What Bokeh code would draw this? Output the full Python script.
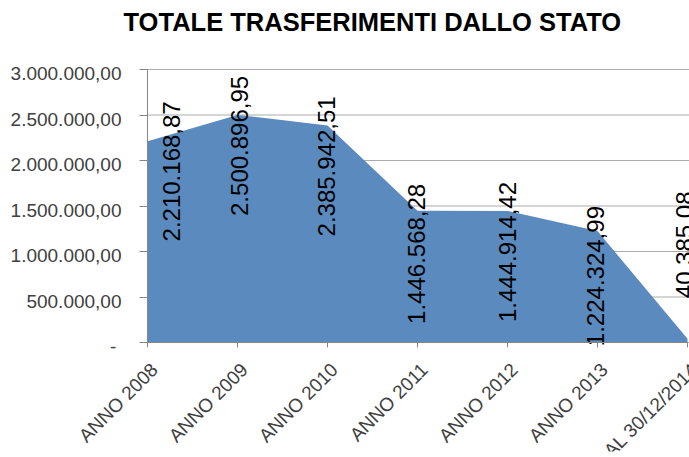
import math
from bokeh.plotting import figure
from bokeh.models import Range1d, FixedTicker, ColumnDataSource, Title
from bokeh.core.properties import value
from bokeh.embed import file_html
from bokeh.resources import INLINE

# ---- data ----
categories = ["ANNO 2008", "ANNO 2009", "ANNO 2010", "ANNO 2011",
              "ANNO 2012", "ANNO 2013", "AL 30/12/2014"]
values = [2210168.87, 2500896.95, 2385942.51, 1446568.28,
          1444914.42, 1224324.99, 40385.08]
label_texts = ["2.210.168,87", "2.500.896,95", "2.385.942,51", "1.446.568,28",
               "1.444.914,42", "1.224.324,99", "40.385,08"]
y_ticks = [0, 500000, 1000000, 1500000, 2000000, 2500000, 3000000]
y_tick_labels = ["-\u00a0", "500.000,00", "1.000.000,00", "1.500.000,00",
                 "2.000.000,00", "2.500.000,00", "3.000.000,00"]
title_text = "TOTALE TRASFERIMENTI DALLO STATO"

# data-label placement (screen px)
label_dx = [24, 2, -1, -1, 0, -2, -3]
label_dy = [30, 31, 41, 43, 41, 45, -94]

xs = list(range(len(categories)))
y_max = 3000000

# geometry (px): plot frame spans 10..689 x 60..451; the value axis sits at
# x=147, value 0 at y=342, 3.000.000 at y=69, the last category at x=687
W, H = 689, 457
FL, FR, FT, FB = 10, 689, 60, 451
AXIS_PX, LAST_PX, ZERO_PX, TOP_PX = 147, 687, 342, 69
step = (LAST_PX - AXIS_PX) / (len(xs) - 1)
x_start = -(AXIS_PX - FL) / step
x_end = (len(xs) - 1) + (FR - LAST_PX) / step
unit = y_max / (ZERO_PX - TOP_PX)
y_start = -(FB - ZERO_PX) * unit
y_end = y_max + (TOP_PX - FT) * unit

p = figure(width=W, height=H,
           x_range=Range1d(x_start, x_end),
           y_range=Range1d(y_start, y_end),
           output_backend="svg", toolbar_location=None,
           min_border_left=FL, min_border_right=W - FR,
           min_border_top=FT, min_border_bottom=H - FB)

p.outline_line_color = None
p.background_fill_color = "white"
p.border_fill_color = "white"
p.xgrid.grid_line_color = None
p.ygrid.grid_line_color = None

# spacer between title and plot area
p.add_layout(Title(text="\u00a0", text_font_size="1px", standoff=20), "above")

# title
p.title.text = title_text
p.title.text_font = "Liberation Sans"
p.title.text_font_size = "25.5px"
p.title.text_font_style = "bold"
p.title.text_color = "black"
p.title.align = "left"
p.title.offset = 113
p.title.standoff = 4

# horizontal grid lines (drawn first so the area covers them)
p.segment(x0=[0] * len(y_ticks), x1=[x_end] * len(y_ticks),
          y0=y_ticks, y1=y_ticks, line_color="#ABABAB", line_width=1)

# area
src = ColumnDataSource(dict(x=xs, y=values))
p.varea(x="x", y1=0, y2="y", source=src, fill_color="#5B8BBE")

# data labels
lsrc = ColumnDataSource(dict(x=xs, y=values, t=label_texts,
                             dx=label_dx, dy=label_dy))
p.text(x="x", y="y", text="t", x_offset="dx", y_offset="dy", source=lsrc,
       angle=math.pi / 2, text_align="center", text_baseline="middle",
       text_font=value("Liberation Sans"), text_font_size="24px",
       text_color="black")

# y axis at x=0 (line and ticks); its labels are drawn as text
p.yaxis.fixed_location = 0
p.yaxis.ticker = FixedTicker(ticks=y_ticks)
p.yaxis.bounds = (0, y_max)
p.yaxis.major_label_overrides = {t: "" for t in y_ticks}
p.yaxis.major_label_text_font_size = "1px"
p.yaxis.major_label_standoff = 0
p.yaxis.axis_line_color = "#868686"
p.yaxis.major_tick_line_color = "#868686"
p.yaxis.major_tick_out = 8
p.yaxis.major_tick_in = 0
p.yaxis.minor_tick_line_color = None

ysrc = ColumnDataSource(dict(x=[0] * len(y_ticks), y=y_ticks, t=y_tick_labels))
p.text(x="x", y="y", text="t", source=ysrc, x_offset=-26, y_offset=4,
       text_align="right", text_baseline="middle",
       text_font=value("Liberation Sans"), text_font_size="19px",
       text_color="#404040")

# x axis at value 0; category names drawn as rotated text below it
p.xaxis.fixed_location = 0
p.xaxis.bounds = (0, len(xs) - 1)
p.xaxis.ticker = FixedTicker(ticks=xs)
p.xaxis.major_label_overrides = {x: "" for x in xs}
p.xaxis.major_label_text_font_size = "1px"
p.xaxis.major_label_standoff = 0
p.xaxis.axis_line_color = "#868686"
p.xaxis.major_tick_line_color = "#868686"
p.xaxis.major_tick_out = 5
p.xaxis.major_tick_in = 0
p.xaxis.minor_tick_line_color = None

csrc = ColumnDataSource(dict(x=xs, y=[0] * len(xs), t=categories))
p.text(x="x", y="y", text="t", source=csrc, angle=math.pi / 4,
       text_align="right", text_baseline="middle", x_offset=7, y_offset=24,
       text_font=value("Liberation Sans"), text_font_size="19px",
       text_color="#404040")

open("out.html", "w").write(file_html(p, INLINE))
